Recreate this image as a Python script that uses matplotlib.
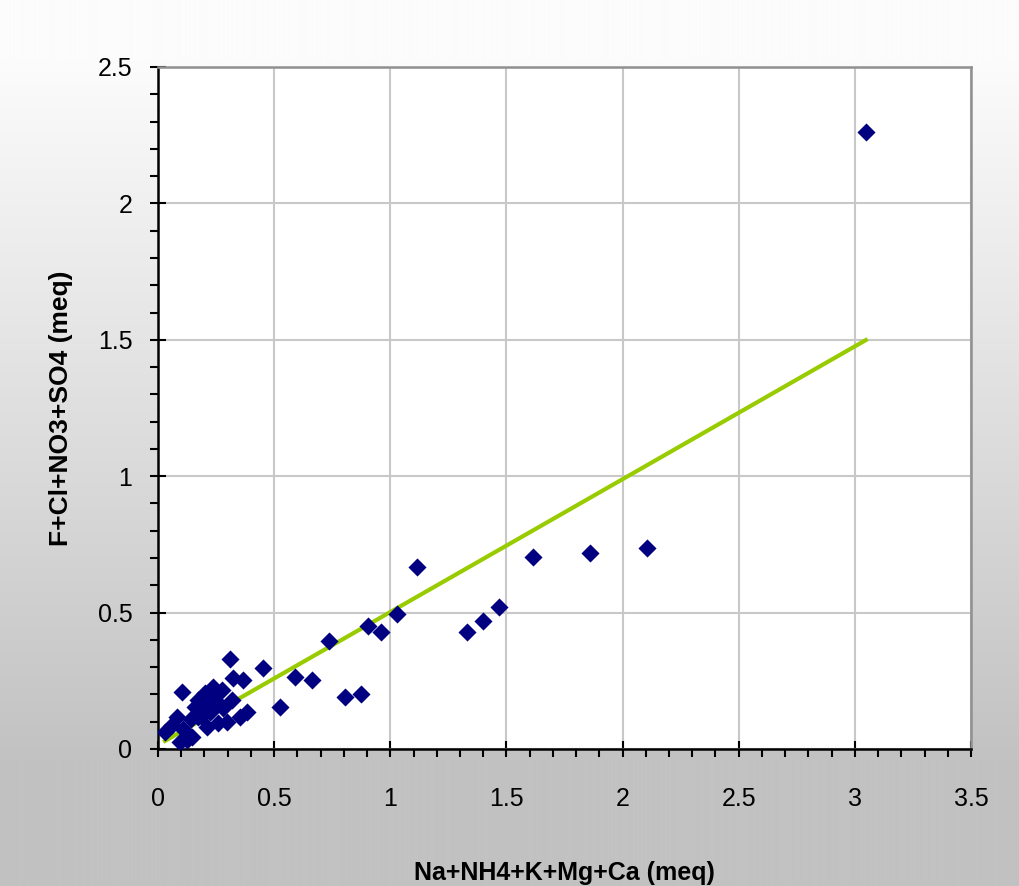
import matplotlib.pyplot as plt
import numpy as np
from matplotlib.ticker import MultipleLocator, FormatStrFormatter

# cations (x) vs anions (y), meq
cations = [3.047, 2.104, 1.859, 1.614, 1.467, 1.398, 1.330, 1.114, 1.028, 0.960,
           0.904, 0.736, 0.873, 0.805, 0.525, 0.663, 0.589, 0.452, 0.310, 0.102,
           0.324, 0.367, 0.202, 0.173, 0.274, 0.259, 0.173, 0.224, 0.317, 0.382,
           0.353, 0.295, 0.259, 0.209, 0.080, 0.059, 0.109, 0.030, 0.123, 0.095,
           0.145, 0.159, 0.238, 0.190, 0.215, 0.245, 0.280, 0.185, 0.230, 0.140]
anions = [2.262, 0.737, 0.718, 0.704, 0.521, 0.469, 0.429, 0.667, 0.495, 0.429,
          0.451, 0.396, 0.202, 0.190, 0.154, 0.253, 0.264, 0.297, 0.330, 0.208,
          0.259, 0.253, 0.204, 0.180, 0.216, 0.167, 0.118, 0.137, 0.180, 0.137,
          0.118, 0.100, 0.094, 0.082, 0.118, 0.088, 0.075, 0.063, 0.033, 0.025,
          0.045, 0.155, 0.228, 0.150, 0.190, 0.200, 0.150, 0.120, 0.140, 0.110]

# linear trend line
trend_slope = 0.487
trend_intercept = 0.015

x_label = 'Na+NH4+K+Mg+Ca (meq)'
y_label = 'F+Cl+NO3+SO4 (meq)'

plt.rcParams['font.family'] = ['Liberation Sans', 'DejaVu Sans']

fig = plt.figure(figsize=(10.2, 8.86), dpi=100)

# grey gradient background
bg = fig.add_axes([0, 0, 1, 1], zorder=-10)
rows = np.arange(886)
shade = np.clip((rows - 60) / 700.0, 0, 1)
vals = 252 - shade * 58
grad = np.repeat(vals[:, None], 2, axis=1) / 255.0
bg.imshow(np.dstack([grad, grad, grad]), aspect='auto', extent=[0, 1, 0, 1])
bg.axis('off')

ax = fig.add_axes([158 / 1020, 1 - 749 / 886, (971 - 158) / 1020, (749 - 67) / 886])
ax.set_facecolor('white')

ax.scatter(cations, anions, marker='D', s=85, color='#000080', zorder=3, linewidths=0)

xs = np.array([min(cations), max(cations)])
ax.plot(xs, trend_slope * xs + trend_intercept, color='#99cc00', lw=3, zorder=2)

ax.set_xlim(0, 3.5)
ax.set_ylim(0, 2.5)
ax.xaxis.set_major_locator(MultipleLocator(0.5))
ax.yaxis.set_major_locator(MultipleLocator(0.5))
ax.xaxis.set_minor_locator(MultipleLocator(0.1))
ax.yaxis.set_minor_locator(MultipleLocator(0.1))
ax.xaxis.set_major_formatter(FormatStrFormatter('%g'))
ax.yaxis.set_major_formatter(FormatStrFormatter('%g'))

ax.grid(True, which='major', color='#c8c8c8', lw=1.5)
ax.set_axisbelow(True)

ax.tick_params(which='major', direction='inout', length=11, width=1.5, labelsize=18)
ax.tick_params(axis='x', which='major', pad=22)
ax.tick_params(axis='y', which='major', pad=13)
ax.tick_params(which='minor', direction='out', length=6, width=1.5)

for s in ['left', 'bottom']:
    ax.spines[s].set_color('black')
    ax.spines[s].set_linewidth(1.8)
for s in ['top', 'right']:
    ax.spines[s].set_color('#909090')
    ax.spines[s].set_linewidth(1.8)

ax.set_xlabel(x_label, fontsize=18, fontweight='bold', labelpad=36)
ax.set_ylabel(y_label, fontsize=19, fontweight='bold', labelpad=18)

fig.savefig('out.png', dpi=100)
